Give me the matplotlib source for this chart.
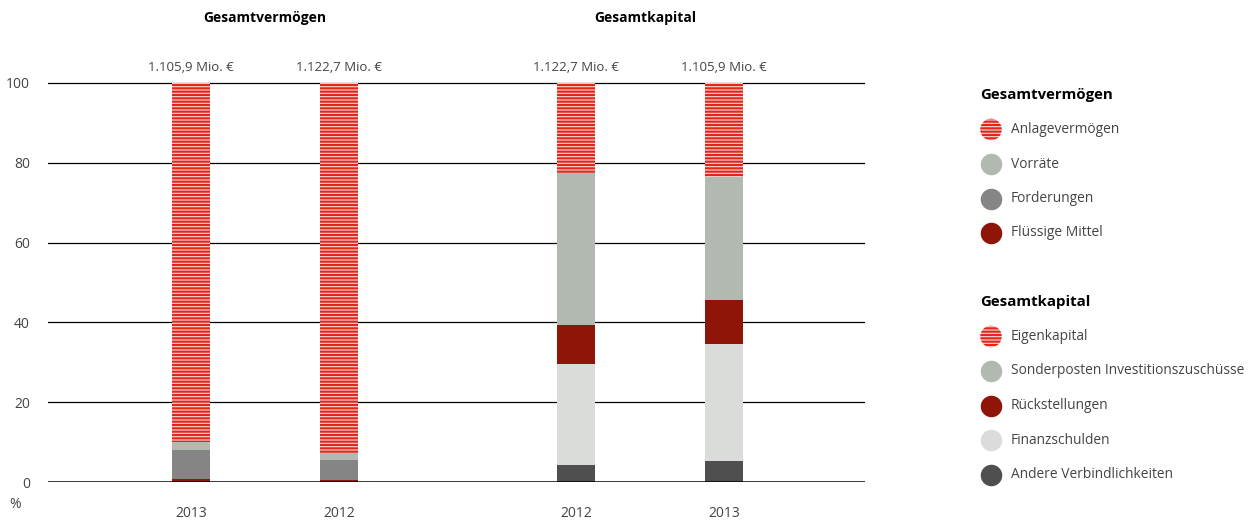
import numpy as np
import matplotlib
matplotlib.use('Agg')
import matplotlib.pyplot as plt

plt.rcParams['font.family'] = ['Open Sans', 'DejaVu Sans']
plt.rcParams['hatch.linewidth'] = 1.55

# data (percent shares, bottom to top)
verm_years = ['2013', '2012']
verm_labels = ['Flüssige Mittel', 'Forderungen', 'Vorräte', 'Anlagevermögen']
verm_values = {
    'Flüssige Mittel': [0.8, 0.5],
    'Forderungen': [7.2, 5.0],
    'Vorräte': [2.0, 1.7],
    'Anlagevermögen': [90.0, 92.8],
}
verm_totals = ['1.105,9 Mio. €', '1.122,7 Mio. €']

kap_years = ['2012', '2013']
kap_labels = ['Andere Verbindlichkeiten', 'Finanzschulden', 'Rückstellungen',
              'Sonderposten Investitionszuschüsse', 'Eigenkapital']
kap_values = {
    'Andere Verbindlichkeiten': [4.3, 5.3],
    'Finanzschulden': [25.3, 29.3],
    'Rückstellungen': [9.7, 11.0],
    'Sonderposten Investitionszuschüsse': [38.1, 30.9],
    'Eigenkapital': [22.6, 23.5],
}
kap_totals = ['1.122,7 Mio. €', '1.105,9 Mio. €']

RED = '#e2261c'
PINK = '#f9d3cd'
styles = {
    'Anlagevermögen': 'hatch', 'Eigenkapital': 'hatch',
    'Vorräte': '#b1b9b1', 'Sonderposten Investitionszuschüsse': '#b1b9b1',
    'Forderungen': '#858585',
    'Flüssige Mittel': '#8f1509', 'Rückstellungen': '#8f1509',
    'Finanzschulden': '#d9dcd9',
    'Andere Verbindlichkeiten': '#4f4f4f',
}
TXT = '#444444'

W, H = 1251, 523
fig = plt.figure(figsize=(W / 100, H / 100), dpi=100)
ax = fig.add_axes([48 / W, (H - 482) / H, (865 - 48) / W, 3.99 * 101 / H])
ax.set_xlim(0.034, 5.554)
ax.set_ylim(0, 101)

verm_x = [1, 2]
kap_x = [3.6, 4.6]
bw = 0.257


def stack(xs, labels, values):
    bottom = np.zeros(len(xs))
    for lab in labels:
        v = np.array(values[lab])
        st = styles[lab]
        if st == 'hatch':
            ax.bar(xs, v, bw, bottom=bottom, facecolor=PINK, edgecolor=RED,
                   hatch='-----', linewidth=0, zorder=3)
        else:
            ax.bar(xs, v, bw, bottom=bottom, color=st, linewidth=0, zorder=3)
        bottom += v
    return bottom


top1 = stack(verm_x, verm_labels, verm_values)
top2 = stack(kap_x, kap_labels, kap_values)

for x, t, s in zip(verm_x + kap_x, list(top1) + list(top2), verm_totals + kap_totals):
    ax.text(x, t + 2.3, s, ha='center', va='bottom', fontsize=9.5, color=TXT)

for y in [20, 40, 60, 80, 100]:
    ax.axhline(y, color='black', lw=0.9, zorder=2)
ax.axhline(0, color='black', lw=1.8, zorder=4)

ax.set_yticks([0, 20, 40, 60, 80, 100])
ax.set_yticklabels(['0', '20', '40', '60', '80', '100'], fontsize=10, color=TXT)
ax.tick_params(axis='y', length=0, pad=13)
ax.set_xticks(verm_x + kap_x)
ax.set_xticklabels(verm_years + kap_years, fontsize=10, color=TXT)
ax.tick_params(axis='x', length=0, pad=17)
for s in ax.spines.values():
    s.set_visible(False)

fig.text(15 / W, 1 - 505 / H, '%', fontsize=10, color=TXT, ha='center', va='center')
fig.text(265 / W, 1 - 18 / H, 'Gesamtvermögen', fontsize=10, fontweight='bold',
         ha='center', va='center', color='black')
fig.text(645 / W, 1 - 18 / H, 'Gesamtkapital', fontsize=10, fontweight='bold',
         ha='center', va='center', color='black')

# legend drawn in pixel coordinates
lax = fig.add_axes([0, 0, 1, 1])
lax.set_xlim(0, W)
lax.set_ylim(H, 0)
lax.axis('off')


def legend_block(title, labels, y0):
    lax.text(980, y0, title, fontsize=10.8, fontweight='bold', va='center', color='black')
    for i, lab in enumerate(labels):
        y = y0 + 34.5 * (i + 1)
        st = styles[lab]
        if st == 'hatch':
            lax.scatter([991], [y], s=240, facecolor=PINK, edgecolor=RED,
                        hatch='-----', linewidth=0)
        else:
            lax.scatter([991], [y], s=240, color=st, linewidth=0)
        lax.text(1011, y, lab, fontsize=9.9, va='center', color=TXT)


legend_block('Gesamtvermögen', verm_labels[::-1], 95)
legend_block('Gesamtkapital', kap_labels[::-1], 302)

fig.savefig('out.png', dpi=100)
